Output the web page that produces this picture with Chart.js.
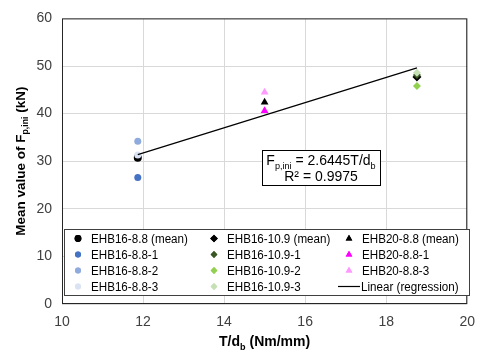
<!DOCTYPE html>
<html>
<head>
<meta charset="utf-8">
<script src="https://cdn.jsdelivr.net/npm/chart.js@4"></script>
<style>
  html, body { margin: 0; padding: 0; background: #fff; }
  #wrap { width: 485px; height: 356px; }
</style>
</head>
<body>
<div id="wrap"><canvas id="grafico"></canvas></div>
<script>
// valores
const tdEHB16_88 = 11.87;
const tdEHB16_109 = 18.76;
const tdEHB20_88 = 15.0;

// [mean, -1, -2, -3]
const fEHB16_88 = [30.7, 26.6, 34.2, 31.3];
const fEHB16_109 = [47.7, 48.1, 45.8, 48.6];
// [mean, -1, -3]
const fEHB20_88 = [42.4, 40.6, 44.5];

// linha de regressão (pontos extremos)
const regX = [11.87, 18.76];
const regY = [31.39, 49.61];

const xTicks = [10, 12, 14, 16, 18, 20];
const yTicks = [0, 10, 20, 30, 40, 50, 60];

const fontFam = '"Liberation Sans", Arial, sans-serif';

function pt(x, y) { return [{ x: x, y: y }]; }

function serie(label, x, y, color, style, radius) {
  return {
    label: label, data: pt(x, y), pointStyle: style,
    backgroundColor: color, borderColor: color,
    pointRadius: radius, pointBorderWidth: 0, showLine: false
  };
}

// ordem igual à do Excel (linha por linha na legenda)
const datasets = [
  serie('EHB16-8.8 (mean)', tdEHB16_88, fEHB16_88[0], '#000000', 'circle', 4),
  serie('EHB16-10.9 (mean)', tdEHB16_109, fEHB16_109[0], '#000000', 'rectRot', 4.5),
  serie('EHB20-8.8 (mean)', tdEHB20_88, fEHB20_88[0], '#000000', 'triangle', 4.5),
  serie('EHB16-8.8-1', tdEHB16_88, fEHB16_88[1], '#4472C4', 'circle', 3.5),
  serie('EHB16-10.9-1', tdEHB16_109, fEHB16_109[1], '#385723', 'rectRot', 4),
  serie('EHB20-8.8-1', tdEHB20_88, fEHB20_88[1], '#FF00FF', 'triangle', 4.5),
  serie('EHB16-8.8-2', tdEHB16_88, fEHB16_88[2], '#8FAADC', 'circle', 3.5),
  serie('EHB16-10.9-2', tdEHB16_109, fEHB16_109[2], '#92D050', 'rectRot', 4),
  serie('EHB20-8.8-3', tdEHB20_88, fEHB20_88[2], '#FF99FF', 'triangle', 4.5),
  serie('EHB16-8.8-3', tdEHB16_88, fEHB16_88[3], '#DAE3F3', 'circle', 3.5),
  serie('EHB16-10.9-3', tdEHB16_109, fEHB16_109[3], '#C5E0B4', 'rectRot', 4),
  {
    label: 'Linear (regression)', type: 'line',
    data: regX.map((x, i) => ({ x: x, y: regY[i] })),
    borderColor: '#000000', borderWidth: 1.2, pointRadius: 0, showLine: true, fill: false
  }
];
datasets.forEach((d, i) => { d.order = datasets.length - i; });

// texto com subscrito
function drawRich(ctx, parts, x, y, size, bold, align) {
  const f = (s) => (bold ? 'bold ' : '') + s + 'px ' + fontFam;
  let w = 0;
  parts.forEach(p => { ctx.font = f(p.sub ? size * 0.65 : size); w += ctx.measureText(p.t).width; });
  let cx = align === 'center' ? x - w / 2 : x;
  ctx.textAlign = 'left';
  ctx.textBaseline = 'alphabetic';
  parts.forEach(p => {
    ctx.font = f(p.sub ? size * 0.65 : size);
    ctx.fillText(p.t, cx, p.sub ? y + size * 0.25 : y);
    cx += ctx.measureText(p.t).width;
  });
}

// texto da legenda um pouco estreitado
function legendText(ctx, txt, x, y) {
  ctx.save();
  ctx.translate(x, y);
  ctx.scale(0.93, 1);
  ctx.fillStyle = '#000';
  ctx.font = '12.5px ' + fontFam;
  ctx.textBaseline = 'middle';
  ctx.textAlign = 'left';
  ctx.fillText(txt, 0, 0);
  ctx.restore();
}

const extras = {
  id: 'extras',
  afterDraw(chart) {
    const ctx = chart.ctx;
    const a = chart.chartArea;
    ctx.save();
    // moldura da área do gráfico
    ctx.strokeStyle = '#262626';
    ctx.lineWidth = 1;
    ctx.strokeRect(a.left + 0.5, a.top + 0.5, a.right - a.left - 1, a.bottom - a.top - 1);

    // títulos dos eixos
    ctx.fillStyle = '#000';
    drawRich(ctx, [{ t: 'T/d' }, { t: 'b', sub: true }, { t: ' (Nm/mm)' }],
      (a.left + a.right) / 2, 346, 14, true, 'center');
    ctx.save();
    ctx.translate(25, (a.top + a.bottom) / 2);
    ctx.rotate(-Math.PI / 2);
    drawRich(ctx, [{ t: 'Mean value of F' }, { t: 'p,ini', sub: true }, { t: ' (kN)' }],
      0, 0, 13.5, true, 'center');
    ctx.restore();

    // caixa da equação
    ctx.fillStyle = '#fff';
    ctx.fillRect(262, 150, 118, 35);
    ctx.strokeStyle = '#000';
    ctx.strokeRect(262.5, 150.5, 118, 35);
    ctx.fillStyle = '#000';
    drawRich(ctx, [{ t: 'F' }, { t: 'p,ini', sub: true }, { t: ' = 2.6445T/d' }, { t: 'b', sub: true }],
      321, 165, 14, false, 'center');
    drawRich(ctx, [{ t: 'R² = 0.9975' }], 321, 181, 14, false, 'center');

    // legenda
    const lx = 64, ly = 229, lw = 405, lh = 66;
    ctx.fillStyle = '#fff';
    ctx.fillRect(lx, ly, lw, lh);
    ctx.strokeStyle = '#404040';
    ctx.strokeRect(lx + 0.5, ly + 0.5, lw, lh);
    const colX = [78, 214, 349];
    const rowY = [238.5, 254.5, 270.5, 286.5];
    chart.data.datasets.forEach((d, i) => {
      const c = i % 3, r = Math.floor(i / 3);
      const mx = colX[c], my = rowY[r];
      if (d.type === 'line') {
        ctx.strokeStyle = d.borderColor;
        ctx.lineWidth = 1.2;
        ctx.beginPath();
        ctx.moveTo(mx - 11, my);
        ctx.lineTo(mx + 11, my);
        ctx.stroke();
        legendText(ctx, d.label, mx + 12, my + 1);
      } else {
        ctx.fillStyle = d.backgroundColor;
        ctx.strokeStyle = d.borderColor;
        Chart.helpers.drawPoint(ctx, { pointStyle: d.pointStyle, radius: d.pointRadius * 0.85, borderWidth: 0 }, mx, my);
        ctx.fill();
        legendText(ctx, d.label, mx + 13, my + 1);
      }
    });
    ctx.restore();
  }
};

new Chart(document.getElementById('grafico'), {
  type: 'scatter',
  data: { datasets: datasets },
  options: {
    responsive: true,
    maintainAspectRatio: false,
    animation: false,
    layout: { padding: { top: 11, right: 13, left: 0, bottom: 0 } },
    plugins: { legend: { display: false }, tooltip: { enabled: false } },
    scales: {
      x: {
        type: 'linear', min: 10, max: 20,
        afterBuildTicks: (s) => { s.ticks = xTicks.map(v => ({ value: v })); },
        afterFit: (s) => { s.height = 52; },
        grid: { color: '#d9d9d9', drawTicks: false, lineWidth: 1 },
        border: { display: false },
        ticks: { padding: 10, color: '#404040', font: { size: 14, family: fontFam } }
      },
      y: {
        type: 'linear', min: 0, max: 60,
        afterBuildTicks: (s) => { s.ticks = yTicks.map(v => ({ value: v })); },
        afterFit: (s) => { s.width = 62; },
        grid: { color: '#d9d9d9', drawTicks: false, lineWidth: 1 },
        border: { display: false },
        ticks: { padding: 10, color: '#404040', font: { size: 14, family: fontFam } }
      }
    }
  },
  plugins: [extras]
});
</script>
</body>
</html>
